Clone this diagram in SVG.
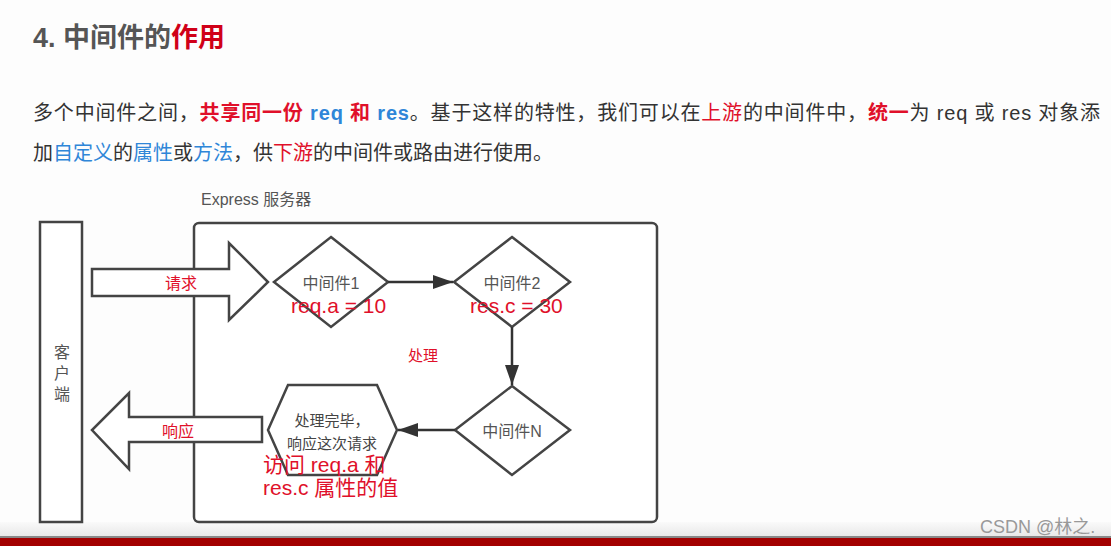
<svg xmlns="http://www.w3.org/2000/svg" width="1111" height="546" viewBox="0 0 1111 546">
<defs>
<style>
.cn{font-family:"Liberation Sans","Noto Sans CJK SC",sans-serif}
.shape{fill:#fff;stroke:#444;stroke-width:2.5}
.lbl{font-size:16px;fill:#555;text-anchor:middle}
.rd{fill:#e0102a}
.big{font-size:21px;fill:#e0102a}
.bl{fill:#2f86d8}
.conn{stroke:#333;stroke-width:2.5;fill:none}
</style>
<marker id="ah2" viewBox="0 0 20 14" refX="20" refY="7" markerWidth="20" markerHeight="14" markerUnits="userSpaceOnUse" orient="auto">
<path d="M0,0 L20,7 L0,14 z" fill="#333"/>
</marker>
<linearGradient id="bg" x1="0" y1="0" x2="0" y2="1">
<stop offset="0" stop-color="#fafafa"/>
<stop offset="1" stop-color="#e6e6e6"/>
</linearGradient>
</defs>
<rect width="1111" height="546" fill="#fdfdfd"/>
<rect x="0" y="522" width="1111" height="16" fill="url(#bg)"/>
<rect x="0" y="536" width="1111" height="2" fill="#888"/>
<rect x="0" y="538" width="1111" height="8" fill="#a30000"/>

<g id="title" class="cn">
<text x="33" y="47" font-size="27" font-weight="bold" fill="#555">4. 中间件的<tspan fill="#d00018">作用</tspan></text>
</g>
<g id="para" class="cn" font-size="20" fill="#333">
<text x="33" y="120" textLength="1067" lengthAdjust="spacing">多个中间件之间，<tspan class="rd" font-weight="bold">共享同一份</tspan><tspan class="bl" font-weight="bold"> req </tspan><tspan class="rd" font-weight="bold">和</tspan><tspan class="bl" font-weight="bold"> res</tspan>。基于这样的特性，我们可以在<tspan class="rd">上游</tspan>的中间件中，<tspan class="rd" font-weight="bold">统一</tspan>为 req 或 res 对象添</text>
<text x="33" y="160">加<tspan class="bl">自定义</tspan>的<tspan class="bl">属性</tspan>或<tspan class="bl">方法</tspan>，供<tspan class="rd">下游</tspan>的中间件或路由进行使用。</text>
</g>

<g id="server">
<rect class="shape" x="194" y="223" width="463" height="299" rx="5"/>
<text class="cn" x="201" y="205" font-size="16" fill="#555">Express 服务器</text>
<text class="cn" x="408" y="361" font-size="15" fill="#e0102a">处理</text>
</g>

<g id="client">
<rect class="shape" x="40" y="222" width="42" height="300"/>
<text class="cn lbl" x="62" y="358">客</text>
<text class="cn lbl" x="62" y="379">户</text>
<text class="cn lbl" x="62" y="400">端</text>
</g>

<g id="request">
<path class="shape" d="M92,269 L229,269 L229,243 L268,282 L229,320 L229,296 L92,296 Z"/>
<text class="cn" x="181" y="289" font-size="16" fill="#e0102a" text-anchor="middle">请求</text>
</g>

<g id="response">
<path class="shape" d="M262,417 L129,417 L129,393 L92,430 L129,469 L129,442 L262,442 Z"/>
<text class="cn" x="178" y="437" font-size="16" fill="#e0102a" text-anchor="middle">响应</text>
</g>

<g id="mw1">
<path class="shape" d="M331,237 L388,282 L331,327 L274,282 Z"/>
<text class="cn lbl" x="331" y="289">中间件1</text>
<text class="cn big" x="291" y="313">req.a = 10</text>
</g>

<g id="mw2">
<path class="shape" d="M512,237 L570,282 L512,327 L454,282 Z"/>
<text class="cn lbl" x="512" y="289">中间件2</text>
<text class="cn big" x="470" y="313">res.c = 30</text>
</g>

<g id="mwN">
<path class="shape" d="M512,386 L570,430 L512,475 L455,430 Z"/>
<text class="cn lbl" x="512" y="437">中间件N</text>
</g>

<g id="done">
<path class="shape" d="M288,385 L377,385 L397,430 L377,475 L288,475 L268,430 Z"/>
<text class="cn" x="332" y="426" font-size="15" fill="#444" text-anchor="middle">处理完毕，</text>
<text class="cn" x="332" y="449" font-size="15" fill="#444" text-anchor="middle">响应这次请求</text>
<text class="cn big" x="263" y="472">访问 req.a 和</text>
<text class="cn big" x="263" y="495">res.c 属性的值</text>
</g>

<g id="connectors">
<line class="conn" x1="388" y1="282" x2="453" y2="282" marker-end="url(#ah2)"/>
<line class="conn" x1="512" y1="327" x2="512" y2="385" marker-end="url(#ah2)"/>
<line class="conn" x1="455" y1="430" x2="398" y2="430" marker-end="url(#ah2)"/>
</g>

<text class="cn" x="980" y="533" font-size="18" fill="#999">CSDN @林之.</text>
</svg>
